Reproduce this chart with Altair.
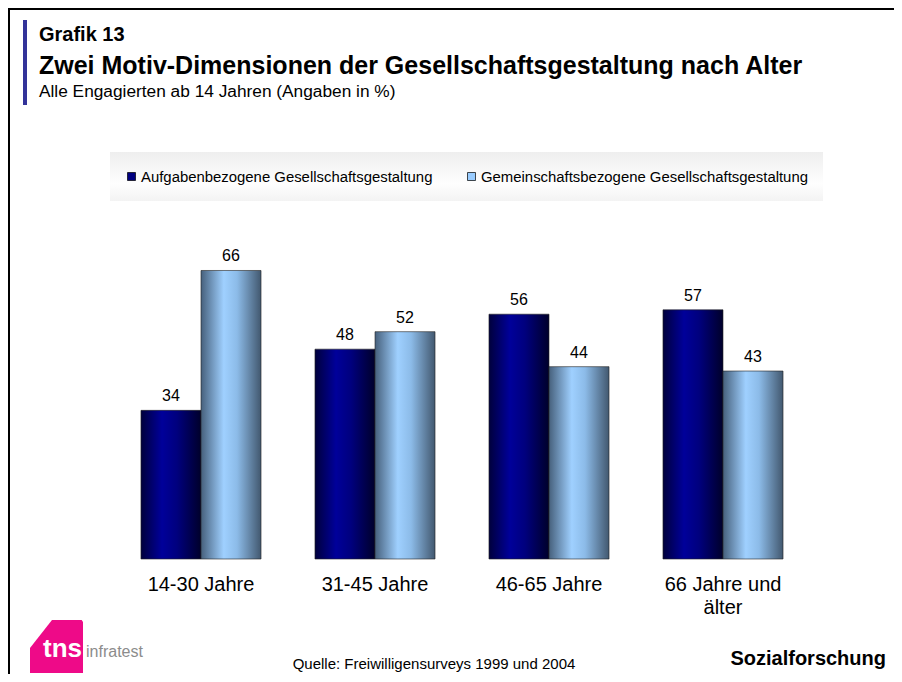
import altair as alt
import pandas as pd

# ---------------- data ----------------
categories = ["14-30 Jahre", "31-45 Jahre", "46-65 Jahre", "66 Jahre und älter"]
category_labels = ["14-30 Jahre", "31-45 Jahre", "46-65 Jahre", "66 Jahre und\nälter"]
series_names = ["Aufgabenbezogene Gesellschaftsgestaltung",
                "Gemeinschaftsbezogene Gesellschaftsgestaltung"]
aufgaben = [34, 48, 56, 57]
gemeinschaft = [66, 52, 44, 43]

title_small = "Grafik 13"
title_main = "Zwei Motiv-Dimensionen der Gesellschaftsgestaltung nach Alter"
subtitle = "Alle Engagierten ab 14 Jahren (Angaben in %)"
source = "Quelle: Freiwilligensurveys 1999 und 2004"
brand = "Sozialforschung"

rows = []
for c, lab, a, g in zip(categories, category_labels, aufgaben, gemeinschaft):
    rows.append({"cat": c, "label": lab, "series": series_names[0], "value": a})
    rows.append({"cat": c, "label": lab, "series": series_names[1], "value": g})
df = pd.DataFrame(rows)
one = pd.DataFrame({"k": [0]})

FONT = "Liberation Sans, Arial, Helvetica, sans-serif"

# plot-area origin in page coordinates
OX, OY = 114, 253
PW, PH = 696, 306

def px(v):
    return alt.value(v - OX)

def py(v):
    return alt.value(v - OY)

def deco_text(txt, x, y, size, bold=False, color="#000000", align="left", font=FONT):
    return alt.Chart(one).mark_text(
        text=txt, align=align, baseline="alphabetic", fontSize=size,
        fontWeight="bold" if bold else "normal", font=font, color=color
    ).encode(x=px(x), y=py(y))

def deco_rect(x1, y1, x2, y2, fill):
    return alt.Chart(one).mark_rect(fill=fill, strokeWidth=0).encode(
        x=px(x1), x2=px(x2), y=py(y1), y2=py(y2))

dark_grad = alt.LinearGradient(
    gradient="linear", x1=0, x2=1, y1=0, y2=0,
    stops=[alt.GradientStop(offset=0, color="#00003c"),
           alt.GradientStop(offset=0.35, color="#00009a"),
           alt.GradientStop(offset=0.6, color="#00007e"),
           alt.GradientStop(offset=1, color="#00002a")])
light_grad = alt.LinearGradient(
    gradient="linear", x1=0, x2=1, y1=0, y2=0,
    stops=[alt.GradientStop(offset=0, color="#46607c"),
           alt.GradientStop(offset=0.38, color="#9fd0ff"),
           alt.GradientStop(offset=0.6, color="#8cbbe8"),
           alt.GradientStop(offset=1, color="#42586f")])
legend_grad = alt.LinearGradient(
    gradient="linear", x1=0, x2=0, y1=0, y2=1,
    stops=[alt.GradientStop(offset=0, color="#eeeeee"),
           alt.GradientStop(offset=0.65, color="#fefefe"),
           alt.GradientStop(offset=1, color="#f3f3f3")])

x_enc = alt.X("cat:N", sort=categories,
              scale=alt.Scale(domain=categories, paddingInner=0.31, paddingOuter=0.155),
              axis=None)
xo_enc = alt.XOffset("series:N", scale=alt.Scale(domain=series_names, paddingInner=0, paddingOuter=0))
y_enc = alt.Y("value:Q", scale=alt.Scale(domain=[0, 70]), axis=None)

base = alt.Chart(df)
bars1 = base.transform_filter(alt.datum.series == series_names[0]).mark_bar(
    fill=dark_grad, stroke="#222222", strokeWidth=0.6).encode(x=x_enc, xOffset=xo_enc, y=y_enc)
bars2 = base.transform_filter(alt.datum.series == series_names[1]).mark_bar(
    fill=light_grad, stroke="#222222", strokeWidth=0.6).encode(x=x_enc, xOffset=xo_enc, y=y_enc)
values = base.mark_text(baseline="alphabetic", dy=-9, fontSize=16, font=FONT, color="#000000").encode(
    x=x_enc, xOffset=xo_enc, y=y_enc, text="value:Q")
cat_labels = base.transform_filter(alt.datum.series == series_names[0]).mark_text(
    baseline="alphabetic", fontSize=20, font=FONT, color="#000000", lineBreak="\n", lineHeight=23
).encode(x=x_enc, y=py(591), text="label:N")

layers = []
# frame lines
layers.append(deco_rect(8, 8, 894, 10, "#000000"))
layers.append(deco_rect(8, 8, 10, 674, "#000000"))
# accent bar
layers.append(deco_rect(23, 20, 27, 105, "#333399"))
# titles
layers.append(deco_text(title_small, 39, 41, 20, bold=True))
layers.append(deco_text(title_main, 39, 74, 25, bold=True))
layers.append(deco_text(subtitle, 39, 97, 17.3))
# legend
layers.append(alt.Chart(one).mark_rect(fill=legend_grad, strokeWidth=0).encode(
    x=px(110), x2=px(823), y=py(152), y2=py(201)))
layers.append(alt.Chart(one).mark_square(size=64, fill="#000080", stroke="#000000", strokeWidth=0.7, opacity=1).encode(
    x=px(131.5), y=py(176.5)))
layers.append(alt.Chart(one).mark_square(size=64, fill="#99ccff", stroke="#000000", strokeWidth=0.7, opacity=1).encode(
    x=px(471.5), y=py(176.5)))
layers.append(deco_text(series_names[0], 141, 182, 14.9))
layers.append(deco_text(series_names[1], 481, 182, 14.9))
# bars etc
layers += [bars1, bars2, values, cat_labels]
# footer
logo_path = "M -1 0.06 L -0.17 -1 L 0.95 -1 L 1 -0.92 L 1 1 L -1 1 Z"
layers.append(alt.Chart(one).mark_point(shape=logo_path, size=2809, filled=True, fill="#ee0a88",
                                        strokeWidth=0, opacity=1).encode(x=px(56.5), y=py(646.5)))
layers.append(deco_text("tns", 43, 657, 26, bold=True, color="#ffffff"))
layers.append(deco_text("infratest", 86, 657, 16, color="#8c8c8c"))
layers.append(deco_text(source, 434, 669, 15, align="center"))
layers.append(deco_text(brand, 886, 665, 20, bold=True, align="right"))

chart = alt.layer(*layers).properties(
    width=PW, height=PH,
    padding={"left": 106, "top": 245, "right": 84, "bottom": 115},
    autosize=alt.AutoSizeParams(type="none"),
    background="white",
).configure_view(stroke=None)

chart.save("out.html", embed_options={"renderer": "svg", "actions": False})
